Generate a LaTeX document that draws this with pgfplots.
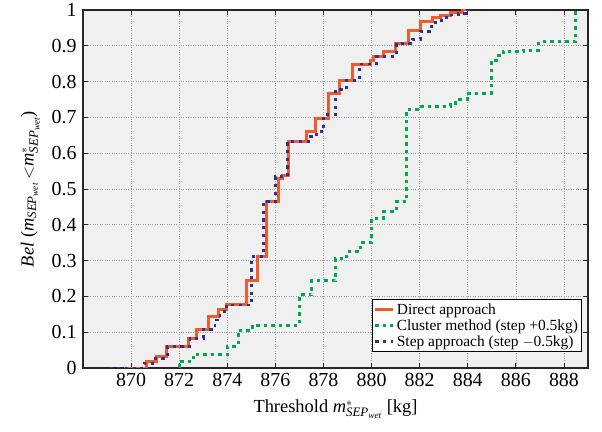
\documentclass[border=0pt]{standalone}
\usepackage{fontspec}
\setmainfont{Liberation Serif}
\usepackage{pgfplots}
\pgfplotsset{compat=1.18}

\definecolor{cred}{RGB}{241,90,43}
\definecolor{cgreen}{RGB}{0,168,80}
\definecolor{cblue}{RGB}{46,49,146}
\definecolor{bggray}{RGB}{239,240,239}

\newcommand{\msep}{\mathit{m}_{\mathit{SEP}_{\mathit{wet}}}}
\newcommand{\msepstar}{\mathit{m}^{*}_{\mathit{SEP}_{\mathit{wet}}}}

\begin{document}
\begin{tikzpicture}
\begin{axis}[name=ax,
  width=505bp,height=358bp,scale only axis,
  xmin=868,xmax=889,ymin=0,ymax=1,
  xtick={870,872,874,876,878,880,882,884,886,888},
  ytick={0,0.1,0.2,0.3,0.4,0.5,0.6,0.7,0.8,0.9,1},
  yticklabels={0,0.1,0.2,0.3,0.4,0.5,0.6,0.7,0.8,0.9,1},
  /pgf/number format/assume math mode=true,
  /pgf/number format/1000 sep={},
  tick label style={font=\rmfamily\fontsize{20}{22}\selectfont},
  yticklabel style={xshift=-3bp},
  xticklabel style={yshift=-2bp},
  label style={font=\rmfamily\fontsize{18.5}{20}\selectfont},
  xlabel={Threshold $\msepstar$ [kg]},
  xlabel style={yshift=-6bp},
  ylabel={$\mathit{Bel}$ ($\msep\,{<}\msepstar$)},
  ylabel style={yshift=5bp},
  axis background/.style={fill=bggray},
  grid=major,
  grid style={dotted,gray!75,line width=0.6pt},
  axis line style={black!85,line width=1.1pt},
  tick style={black!85,line width=0.9pt},
  major tick length=5bp,
  tick align=inside,
  legend cell align=left,
  legend style={at={(0.988,0.045)},anchor=south east,draw=black,line width=0.9pt,
    fill=white,font=\rmfamily\fontsize{15.5}{16.5}\selectfont,inner sep=1.5pt,row sep=0pt},
  legend image code/.code={\draw[#1] (0bp,0bp) -- (18bp,0bp);},
]
\addplot[const plot,cred,line width=3pt] coordinates {
(869.7,0) (870.65,0.018) (871.05,0.032) (871.47,0.059) (872.38,0.083)
(872.72,0.108) (873.2,0.143) (873.63,0.164) (873.98,0.176) (874.8,0.244)
(875.25,0.311) (875.64,0.465) (876.12,0.530) (876.3,0.539) (876.56,0.632)
(877.28,0.660) (877.65,0.697) (878.21,0.767) (878.67,0.804) (879.22,0.849)
(879.95,0.860) (880.1,0.870) (880.5,0.884) (880.99,0.907) (881.54,0.942)
(882.03,0.967) (882.52,0.980) (882.86,0.986) (883.28,0.993) (883.77,1.0)
(884.0,1.0)};
\addlegendentry{Direct approach}
\addplot[const plot,cgreen,line width=3pt,dash pattern=on 3.5bp off 4bp] coordinates {
(872.0,0) (872.0,0.018) (872.58,0.038) (874.0,0.061) (874.45,0.106)
(875.05,0.120) (877.0,0.204) (877.52,0.244) (878.49,0.306) (878.97,0.325)
(879.53,0.350) (879.99,0.418) (880.5,0.437) (881.03,0.465) (881.47,0.723)
(881.9,0.730) (883.28,0.740) (883.5,0.750) (883.97,0.767) (884.97,0.860)
(885.2,0.872) (885.47,0.884) (886.3,0.888) (886.96,0.912) (888.49,1.0)
(888.6,1.0)};
\addlegendentry{Cluster method (step +0.5kg)}
\addplot[const plot,cblue,line width=2.8pt,dash pattern=on 3.2bp off 4.5bp] coordinates {
(869.1,0) (870.55,0.013) (870.9,0.018) (871.0,0.027) (871.5,0.060)
(872.45,0.083) (873.0,0.108) (873.49,0.134) (873.7,0.157) (873.98,0.176)
(875.02,0.311) (875.5,0.465) (876.0,0.534) (876.5,0.632) (877.47,0.646)
(877.7,0.660) (878.0,0.707) (878.49,0.777) (878.97,0.804) (879.5,0.849)
(880.2,0.870) (881.03,0.907) (881.7,0.918) (882.03,0.940) (882.49,0.965)
(882.9,0.978) (883.3,0.986) (883.6,0.990) (884.0,1.0) (884.1,1.0)};
\addlegendentry{Step approach (step $-$0.5kg)}
\end{axis}
\pgfresetboundingbox
\path (ax.south west)+(-83bp,-64bp) rectangle ([shift={(14bp,10bp)}]ax.north east);
\end{tikzpicture}
\end{document}
